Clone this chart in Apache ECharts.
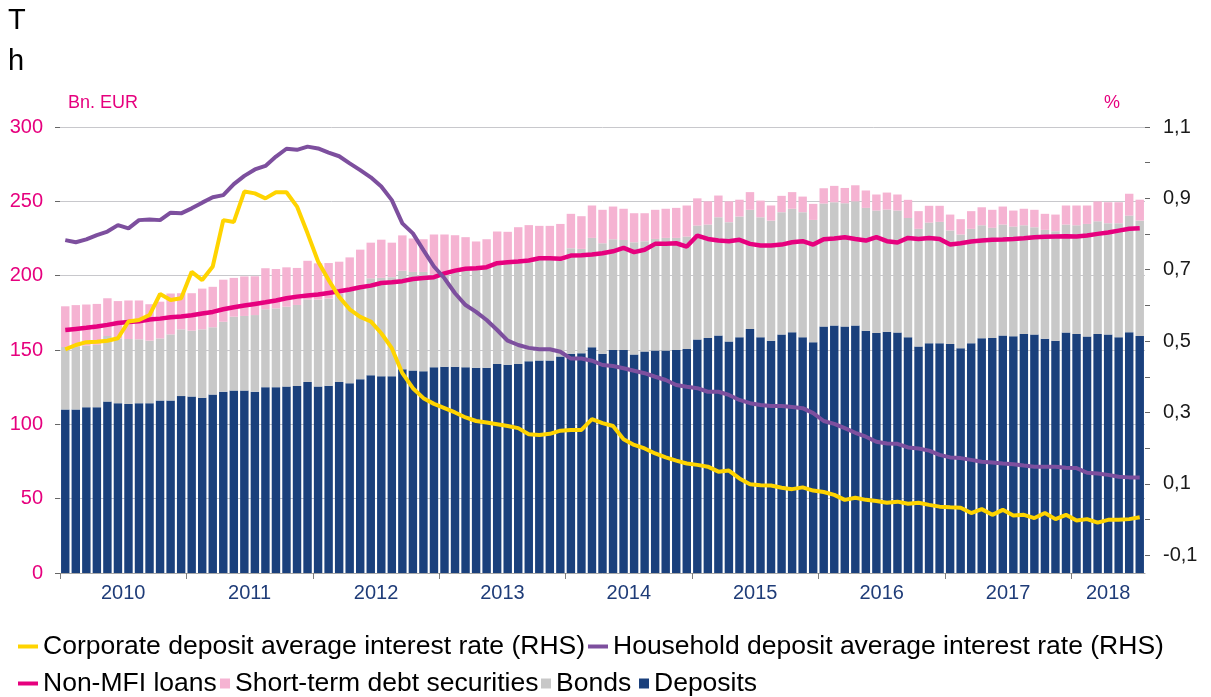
<!DOCTYPE html>
<html>
<head>
<meta charset="utf-8">
<title>Financing</title>
<script src="https://cdn.jsdelivr.net/npm/echarts@6/dist/echarts.min.js"></script>
<style>
html, body { margin: 0; padding: 0; background: #fff; }
#container { width: 1211px; height: 697px; }
</style>
</head>
<body>
<div id="container"></div>
<script>
// monthly data, Jan 2010 - Jul 2018
let years = ['2010', '2011', '2012', '2013', '2014', '2015', '2016', '2017', '2018'];
let monthsPerYear = [12, 12, 12, 12, 12, 12, 12, 12, 7];

let deposits = [
    110, 110, 111.5, 111.5, 115.3, 114.2, 113.7, 114.2, 114.2, 116, 116, 119,
    118.7, 117.8, 120, 122, 122.7, 122.7, 122, 125, 125, 125.4, 125.8, 128.5,
    125.4, 126, 128.5, 127.6, 130.3, 133, 132.4, 132.4, 137, 136.2, 135.7, 138.4,
    138.8, 138.8, 138.4, 138, 138, 140.6, 140, 140.6, 142.4, 142.9, 142.9, 145.6,
    147.4, 147.8, 151.9, 147.4, 150, 150, 147, 149, 149.6, 149.6, 150, 150.7,
    157, 158.1, 159.7, 155.7, 158.6, 164.2, 158.6, 156.3, 160.4, 162, 158.6, 155.2,
    165.8, 166.5, 165.8, 166.5, 163, 161.5, 162.2, 161.7, 158.6, 152.3, 154.5, 154.5,
    154.1, 151.2, 154.5, 157.9, 158.1, 159.7, 159.3, 160.8, 160.4, 157.5, 156.3, 161.7,
    160.8, 159, 160.8, 160.4, 158.6, 162, 159.5
];

let bonds = [
    42, 42.5, 41.5, 42, 44.1, 43.6, 43.7, 43, 42.1, 41.8, 44.5, 44.9,
    44.3, 46.1, 45.3, 47, 49.7, 50.2, 51.5, 52.4, 53, 53.7, 54.5, 55.5,
    58.6, 58.7, 59.5, 62.7, 63.7, 65.2, 66.1, 66.6, 66.3, 66.3, 66.8, 62.6,
    62.7, 63.7, 65.1, 66, 66.5, 66.9, 68, 67.9, 66.6, 67.6, 67.6, 64.4,
    71.1, 70.2, 73.5, 74.4, 74.5, 74, 75.5, 74.2, 75.1, 75.8, 75.4, 75.6,
    76.7, 76.3, 79.6, 80.3, 81.2, 80.1, 80.7, 80.7, 82.3, 83, 84.1, 82.3,
    82.7, 82.9, 82.9, 83.5, 82.6, 82.3, 82.3, 82.1, 80.2, 79.2, 81.2, 81.7,
    76.3, 76.5, 77, 76, 74.1, 74.7, 73.7, 73.1, 72.2, 73.3, 73.6, 72.7,
    73.1, 75.8, 75.8, 74.9, 76.7, 78.4, 77.5
];

let shortTerm = [
    27.4, 27.7, 27.6, 27.5, 25.4, 25.1, 25.9, 26.1, 24.5, 24.7, 27.5, 24.3,
    25.2, 27.4, 27.2, 28.3, 26.1, 26.6, 26.1, 27.6, 26.5, 26.5, 24.9, 26,
    24.3, 23.8, 21.4, 22, 23.5, 24, 25.7, 23.2, 23.8, 22.5, 22, 26.7,
    26.2, 24.7, 22.4, 19, 20, 22.2, 21.5, 24.1, 25, 23, 23, 24.8,
    23.1, 22, 21.8, 22.5, 22, 21, 19.5, 18.8, 19.6, 19.6, 20.2, 20.9,
    18.3, 15.6, 14.6, 14, 11.3, 11.9, 11.2, 10.2, 11, 11.2, 10.5, 10.8,
    10.3, 11, 10.3, 10.8, 11.7, 10.8, 11.4, 10.8, 12.2, 11.9, 11.3, 10.8,
    10.7, 10.3, 11.9, 12.1, 12.1, 12.1, 10.8, 11.1, 11.7, 10.8, 11.2, 12.8,
    13.3, 12.4, 13.3, 14.1, 14.1, 14.7, 14.1
];

let nonMfiLoans = [
    163.5, 164.2, 164.9, 165.8, 166.9, 168.2, 168.9, 169.3, 170.5, 171.1, 172, 172.5,
    173.4, 174.5, 175.6, 177.4, 178.8, 179.9, 181, 182.1, 183.3, 184.8, 185.9, 186.6,
    187.3, 188.4, 189.5, 190.7, 192.2, 193.3, 195.1, 195.6, 196.3, 197.8, 198.5, 199,
    201.5, 203.4, 204.6, 205, 205.7, 208.4, 209, 209.5, 210.2, 211.7, 211.7, 211.3,
    213.5, 213.8, 214.2, 215.1, 216.4, 218.7, 215.8, 217.4, 221.4, 221.4, 221.8, 219.6,
    227, 224.7, 223.6, 223.2, 224.1, 221.4, 220.3, 220.3, 220.9, 222.5, 223.2, 220.9,
    224.5, 225, 225.9, 224.7, 223.6, 225.9, 223.2, 222.3, 225.4, 224.7, 225.4, 224.7,
    220.9, 221.8, 223, 223.6, 224.1, 224.3, 224.7, 225.2, 225.9, 226.1, 226.3, 226.5,
    226.3, 227, 228.1, 229, 230.3, 231.5, 231.9
];

let corporateRate = [
    0.477, 0.489, 0.497, 0.498, 0.501, 0.508, 0.555, 0.559, 0.573, 0.632, 0.615, 0.620,
    0.694, 0.671, 0.709, 0.839, 0.834, 0.919, 0.914, 0.900, 0.917, 0.917, 0.877, 0.802,
    0.723, 0.671, 0.624, 0.589, 0.568, 0.555, 0.522, 0.480, 0.410, 0.368, 0.340, 0.324,
    0.312, 0.300, 0.286, 0.276, 0.272, 0.267, 0.262, 0.256, 0.239, 0.237, 0.240, 0.249,
    0.251, 0.251, 0.281, 0.270, 0.262, 0.225, 0.209, 0.199, 0.185, 0.174, 0.165, 0.157,
    0.153, 0.148, 0.134, 0.137, 0.115, 0.099, 0.096, 0.095, 0.089, 0.085, 0.090, 0.081,
    0.077, 0.069, 0.055, 0.061, 0.055, 0.052, 0.047, 0.050, 0.044, 0.047, 0.041, 0.036,
    0.034, 0.033, 0.018, 0.029, 0.013, 0.027, 0.011, 0.013, 0.004, 0.018, 0.001, 0.013,
    -0.003, 0.001, -0.009, -0.001, -0.001, 0.001, 0.006
];

let householdRate = [
    0.783, 0.777, 0.785, 0.797, 0.807, 0.825, 0.816, 0.839, 0.841, 0.839, 0.860, 0.858,
    0.872, 0.888, 0.903, 0.909, 0.940, 0.963, 0.981, 0.991, 1.017, 1.039, 1.036, 1.045,
    1.040, 1.028, 1.018, 0.998, 0.979, 0.959, 0.933, 0.895, 0.830, 0.802, 0.755, 0.709,
    0.676, 0.634, 0.601, 0.582, 0.559, 0.531, 0.501, 0.489, 0.481, 0.477, 0.477, 0.470,
    0.451, 0.451, 0.445, 0.433, 0.430, 0.424, 0.417, 0.410, 0.400, 0.391, 0.377, 0.372,
    0.368, 0.358, 0.358, 0.349, 0.335, 0.326, 0.321, 0.318, 0.318, 0.315, 0.312, 0.298,
    0.276, 0.268, 0.256, 0.243, 0.232, 0.218, 0.213, 0.212, 0.202, 0.199, 0.193, 0.181,
    0.174, 0.172, 0.167, 0.162, 0.160, 0.157, 0.155, 0.151, 0.148, 0.148, 0.148, 0.145,
    0.144, 0.131, 0.129, 0.125, 0.120, 0.118, 0.118
];

let rateTicks = [-0.1, 0, 0.1, 0.2, 0.3, 0.4, 0.5, 0.6, 0.7, 0.8, 0.9, 1.0, 1.1];
let rateLabels = [-0.1, 0.1, 0.3, 0.5, 0.7, 0.9, 1.1];

// month categories and year ticks / label centres
let months = [];
let yearStarts = [];
let yearCenters = [];
years.forEach(function (y, i) {
    yearStarts.push(months.length);
    yearCenters.push(months.length + monthsPerYear[i] / 2);
    for (let m = 1; m <= monthsPerYear[i]; m++) {
        months.push(y + '-' + (m < 10 ? '0' + m : m));
    }
});

const FONT = '"Liberation Sans", Arial, sans-serif';
const PINK = '#e6007e';

var dom = document.getElementById('container');
var myChart = echarts.init(dom, null, { renderer: 'canvas' });

function legendItem(name, left, top, w, h) {
    return {
        data: [name],
        left: left,
        top: top,
        padding: 0,
        itemGap: 0,
        itemWidth: w,
        itemHeight: h,
        icon: 'rect',
        selectedMode: false,
        textStyle: { fontSize: 26.5, color: '#000', fontFamily: FONT }
    };
}

var option = {
    animation: false,
    backgroundColor: '#fff',
    title: {
        text: 'T\nh',
        left: 8,
        top: 0,
        padding: 0,
        textStyle: { fontSize: 29, fontWeight: 'normal', color: '#000', lineHeight: 41, fontFamily: FONT }
    },
    graphic: [
        { type: 'text', left: 68, top: 94, style: { text: 'Bn. EUR', fill: PINK, font: '18px ' + FONT } },
        { type: 'text', left: 1104, top: 94, style: { text: '%', fill: PINK, font: '18px ' + FONT } }
    ],
    legend: [
        legendItem('Corporate deposit average interest rate (RHS)', 18, 633, 20, 4),
        legendItem('Household deposit average interest rate (RHS)', 588, 633, 20, 4),
        legendItem('Non-MFI loans', 18, 670, 20, 4),
        legendItem('Short-term debt securities', 220, 670, 10, 10),
        legendItem('Bonds', 541, 670, 10, 10),
        legendItem('Deposits', 639, 670, 10, 10)
    ],
    grid: { left: 60, right: 66, top: 127, bottom: 124 },
    xAxis: [
        {
            type: 'category',
            data: months,
            show: false,
            boundaryGap: true
        },
        {
            type: 'value',
            min: 0,
            max: months.length,
            position: 'bottom',
            splitLine: { show: false },
            axisLine: { show: true, onZero: false, lineStyle: { color: '#a6a6a6', width: 1 } },
            axisTick: { show: true, customValues: yearStarts, length: 6, lineStyle: { color: '#7f7f7f' } },
            axisLabel: {
                customValues: yearCenters,
                margin: 10,
                color: '#1f3c78',
                fontSize: 20,
                fontFamily: FONT,
                formatter: function (v) {
                    let i = yearCenters.indexOf(v);
                    return i >= 0 ? years[i] : '';
                }
            }
        }
    ],
    yAxis: [
        {
            type: 'value',
            min: 0,
            max: 300,
            interval: 50,
            position: 'left',
            axisLine: { show: false },
            axisTick: { show: true, length: 5, lineStyle: { color: '#666' } },
            axisLabel: { color: PINK, fontSize: 20, margin: 17, fontFamily: FONT },
            splitLine: { show: true, lineStyle: { color: '#c8c8cc', width: 1 } }
        },
        {
            type: 'value',
            min: -0.15,
            max: 1.1,
            position: 'right',
            axisLine: { show: false },
            axisTick: { show: true, customValues: rateTicks, length: 5, lineStyle: { color: '#666' } },
            axisLabel: {
                customValues: rateLabels,
                color: '#1a1a1a',
                fontSize: 20,
                margin: 18,
                fontFamily: FONT,
                formatter: function (v) { return v.toFixed(1).replace('.', ','); }
            },
            splitLine: { show: false }
        }
    ],
    series: [
        {
            name: 'Deposits',
            type: 'bar',
            stack: 'funds',
            data: deposits,
            barCategoryGap: '20%',
            itemStyle: { color: '#1a407c' }
        },
        {
            name: 'Bonds',
            type: 'bar',
            stack: 'funds',
            data: bonds,
            itemStyle: { color: '#c8c8c8' }
        },
        {
            name: 'Short-term debt securities',
            type: 'bar',
            stack: 'funds',
            data: shortTerm,
            itemStyle: { color: '#f5b3d2' }
        },
        {
            name: 'Non-MFI loans',
            type: 'line',
            data: nonMfiLoans,
            symbol: 'none',
            itemStyle: { color: PINK },
            lineStyle: { color: PINK, width: 4.5 }
        },
        {
            name: 'Household deposit average interest rate (RHS)',
            type: 'line',
            yAxisIndex: 1,
            data: householdRate,
            symbol: 'none',
            itemStyle: { color: '#7d4f9e' },
            lineStyle: { color: '#7d4f9e', width: 4 }
        },
        {
            name: 'Corporate deposit average interest rate (RHS)',
            type: 'line',
            yAxisIndex: 1,
            data: corporateRate,
            symbol: 'none',
            itemStyle: { color: '#ffd400' },
            lineStyle: { color: '#ffd400', width: 4 }
        }
    ]
};

if (option && typeof option === 'object') {
    myChart.setOption(option);
}

window.addEventListener('resize', myChart.resize);
</script>
</body>
</html>
